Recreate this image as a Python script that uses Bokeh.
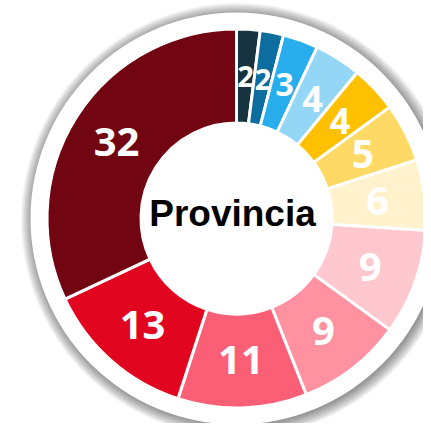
import math
from bokeh.plotting import figure
from bokeh.models import Range1d, ColumnDataSource, Label
from bokeh.core.properties import value
from bokeh.embed import file_html
from bokeh.resources import INLINE

# ---- data ----
labels = ["2", "2", "3", "4", "4", "5", "6", "9", "9", "11", "13", "32"]
values = [2, 2, 3, 4, 4, 5, 6, 9, 9, 11, 13, 32]
colors = ["#173340", "#0d6d9e", "#28aeec", "#94d6f5", "#ffc000", "#ffd966",
          "#fff2cc", "#ffc7ce", "#ff91a0", "#fb5f75", "#e2051f", "#720512"]
title_text = "Provincia"

# ---- geometry ----
R_OUT = 189.5
R_IN = 95.5
R_LABEL = 142
R_RING = 206

total = float(sum(values))
starts, ends, lx, ly, fsz = [], [], [], [], []
cum = 0.0
for v in values:
    a0 = math.pi / 2 - 2 * math.pi * cum / total
    a1 = math.pi / 2 - 2 * math.pi * (cum + v) / total
    mid = (a0 + a1) / 2
    starts.append(a0)
    ends.append(a1)
    lx.append(R_LABEL * math.cos(mid))
    ly.append(R_LABEL * math.sin(mid))
    fsz.append("%dpx" % int(min(40, 22 + 3.5 * v)))
    cum += v

src = ColumnDataSource(dict(start=starts, end=ends, color=colors,
                            lx=lx, ly=ly, label=labels, fs=fsz))

p = figure(width=423, height=423, output_backend="svg", toolbar_location=None,
           x_range=Range1d(-236, 187), y_range=Range1d(-205, 218),
           min_border=0, outline_line_color=None, background_fill_color="white",
           border_fill_color="white")
p.axis.visible = False
p.grid.visible = False

# soft shadow around the white ring
for i in range(12):
    p.circle(x=[1.5], y=[-1.5], radius=R_RING + 11 - i, fill_color="black",
             fill_alpha=0.04, line_color=None)
p.circle(x=[0], y=[0], radius=R_RING, fill_color="white", line_color=None)

p.annular_wedge(x=0, y=0, inner_radius=R_IN, outer_radius=R_OUT,
                start_angle="start", end_angle="end", direction="clock",
                fill_color="color", line_color="white", line_width=3, source=src)

p.text(x="lx", y="ly", text="label", source=src, text_color="white",
       text_font=value("Open Sans"), text_font_style="bold",
       text_font_size="fs", text_align="center", text_baseline="middle")

p.add_layout(Label(x=-4, y=5, text=title_text, text_font="Liberation Sans",
                   text_font_style="bold", text_font_size="37px",
                   text_color="black", text_align="center",
                   text_baseline="alphabetic"))

open("out.html", "w").write(file_html(p, INLINE))
